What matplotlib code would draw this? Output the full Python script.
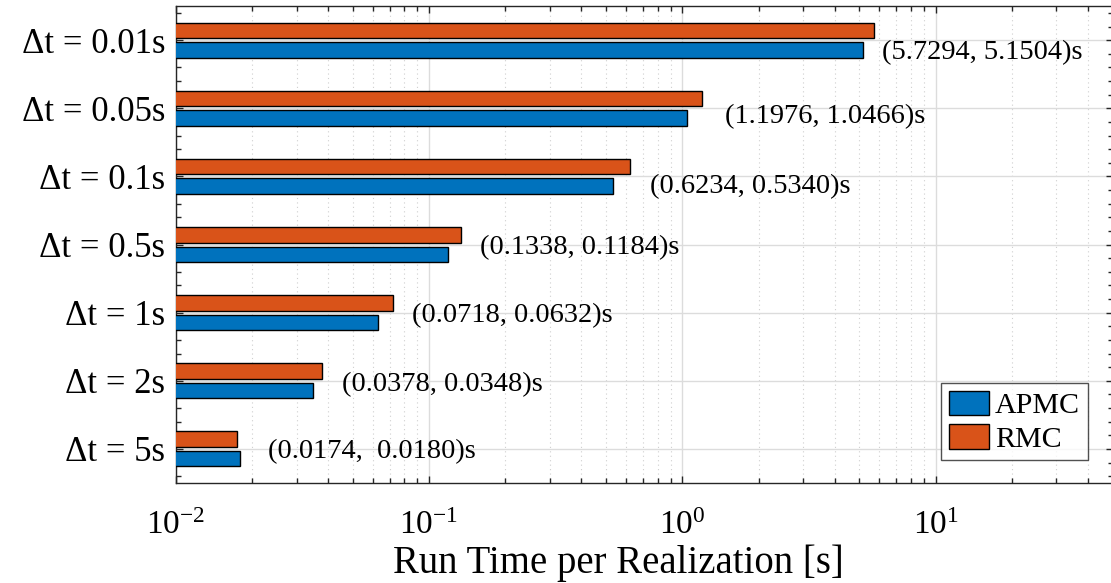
import matplotlib
matplotlib.use("Agg")
import matplotlib.pyplot as plt
import numpy as np
from matplotlib.ticker import LogLocator, LogFormatterMathtext, MultipleLocator, NullFormatter
from matplotlib.patches import Patch

plt.rcParams['font.family'] = ['Liberation Serif', 'DejaVu Serif']
plt.rcParams['mathtext.fontset'] = 'custom'
plt.rcParams['mathtext.rm'] = 'Liberation Serif'
plt.rcParams['mathtext.it'] = 'Liberation Serif:italic'

# run time per realization, seconds
steps = ['0.01s', '0.05s', '0.1s', '0.5s', '1s', '2s', '5s']
apmc = [5.1504, 1.0466, 0.5340, 0.1184, 0.0632, 0.0348, 0.0180]
rmc = [5.7294, 1.1976, 0.6234, 0.1338, 0.0718, 0.0378, 0.0174]
pair_labels = ['(5.7294, 5.1504)s', '(1.1976, 1.0466)s', '(0.6234, 0.5340)s',
               '(0.1338, 0.1184)s', '(0.0718, 0.0632)s', '(0.0378, 0.0348)s',
               '(0.0174,  0.0180)s']

blue = '#0072BD'
orange = '#D95319'
dark = '#262626'

fig = plt.figure(figsize=(11.11, 5.83), dpi=100)
ax = fig.add_axes([0.1581, 0.1715, 0.8434, 0.818])

y = np.arange(1, len(steps) + 1)
h = 0.227
off = 0.143
base = 1e-3  # bars start left of the visible range on the log axis

ax.barh(y + off, np.array(apmc) - base, left=base, height=h, color=blue,
        edgecolor='black', linewidth=1.0, zorder=3)
ax.barh(y - off, np.array(rmc) - base, left=base, height=h, color=orange,
        edgecolor='black', linewidth=1.0, zorder=3)

# value pairs next to each group (offsets in points)
dx = [5.8, 16.6, 14.4, 13.7, 13.7, 14.4, 20.2]
dy = [-9.0, -5.8, -7.2, -2.2, -2.2, -2.9, -2.2]
for i, txt in enumerate(pair_labels):
    xend = max(apmc[i], rmc[i])
    ax.annotate(txt, xy=(xend, y[i]), xytext=(dx[i], dy[i]),
                textcoords='offset points', ha='left', va='center',
                fontsize=20.5, color='black', zorder=4)

ax.set_xscale('log')
ax.set_xlim(1e-2, 50)
ax.set_ylim(7.5, 0.5)

ax.set_yticks(y)
ax.set_yticklabels(['\u0394t = ' + s for s in steps])
ax.yaxis.set_minor_locator(MultipleLocator(0.2))
ax.xaxis.set_major_locator(LogLocator(base=10, numticks=10))
ax.xaxis.set_major_formatter(LogFormatterMathtext())
ax.xaxis.set_minor_locator(LogLocator(base=10, subs=np.arange(2, 10), numticks=20))
ax.xaxis.set_minor_formatter(NullFormatter())

ax.tick_params(axis='both', which='both', direction='in', top=True, right=True,
               color=dark, width=1.0)
ax.tick_params(axis='both', which='major', length=5)
ax.tick_params(axis='both', which='minor', length=3.5)
ax.tick_params(axis='x', which='major', labelsize=24, pad=20)
ax.tick_params(axis='y', which='major', labelsize=25, pad=7.5)

ax.grid(True, which='major', axis='both', color='#dcdcdc', linewidth=1.0,
        linestyle='-', zorder=0)
ax.grid(True, which='minor', axis='x', color='#cfcfcf', linewidth=0.8,
        linestyle=(0, (1, 3)), zorder=0)
ax.set_axisbelow(True)

for s in ax.spines.values():
    s.set_color(dark)
    s.set_linewidth(1.0)

ax.set_xlabel('Run Time per Realization [s]', fontsize=27.9, labelpad=2)
ax.xaxis.label.set_x(0.472)

handles = [Patch(facecolor=blue, edgecolor='black', linewidth=1.0, label='APMC'),
           Patch(facecolor=orange, edgecolor='black', linewidth=1.0, label='RMC')]
leg = ax.legend(handles=handles, loc='lower right', bbox_to_anchor=(0.9733, 0.048),
                borderaxespad=0, fontsize=21.6, frameon=True, fancybox=False,
                edgecolor=dark, handlelength=1.35, handleheight=0.9,
                handletextpad=0.2, labelspacing=0.15, borderpad=0.25)
leg.get_frame().set_linewidth(1.0)
leg.set_zorder(5)

fig.savefig('out.png', dpi=100)
